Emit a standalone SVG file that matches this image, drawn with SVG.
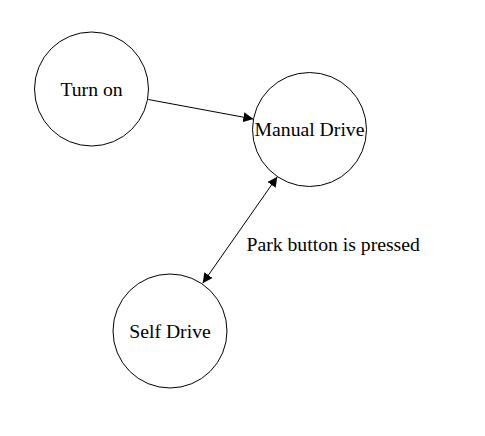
<svg xmlns="http://www.w3.org/2000/svg" width="485" height="436" viewBox="0 0 485 436">
<style>
.node circle{fill:#fff;stroke:#000;stroke-width:1}
.lbl{font-family:'Liberation Serif','Times New Roman',serif;font-size:19.7px;fill:#000}
.edge{stroke:#000;stroke-width:1;fill:none}
</style>
<defs>
<marker id="ah" viewBox="0 0 10 10" refX="10" refY="5" markerWidth="10" markerHeight="10" markerUnits="userSpaceOnUse" orient="auto-start-reverse">
<path d="M0,0 L10,5 L0,10 z" fill="#000"/>
</marker>
</defs>
<rect width="485" height="436" fill="#fff"/>
<g id="turn-on" class="node"><circle cx="91.5" cy="89" r="57"/><text class="lbl" x="91.5" y="95.5" text-anchor="middle">Turn on</text></g>
<g id="manual-drive" class="node"><circle cx="309.5" cy="129.5" r="57"/><text class="lbl" x="309.5" y="136" text-anchor="middle">Manual Drive</text></g>
<g id="self-drive" class="node"><circle cx="170" cy="331" r="57"/><text class="lbl" x="170" y="337.5" text-anchor="middle">Self Drive</text></g>
<g id="connectors">
<line class="edge" x1="148.3" y1="99.5" x2="253.3" y2="119" marker-end="url(#ah)"/>
<line class="edge" x1="277.3" y1="176.7" x2="202.7" y2="283.3" marker-start="url(#ah)" marker-end="url(#ah)"/>
<text class="lbl" x="246.5" y="250.5">Park button is pressed</text>
</g>
</svg>
